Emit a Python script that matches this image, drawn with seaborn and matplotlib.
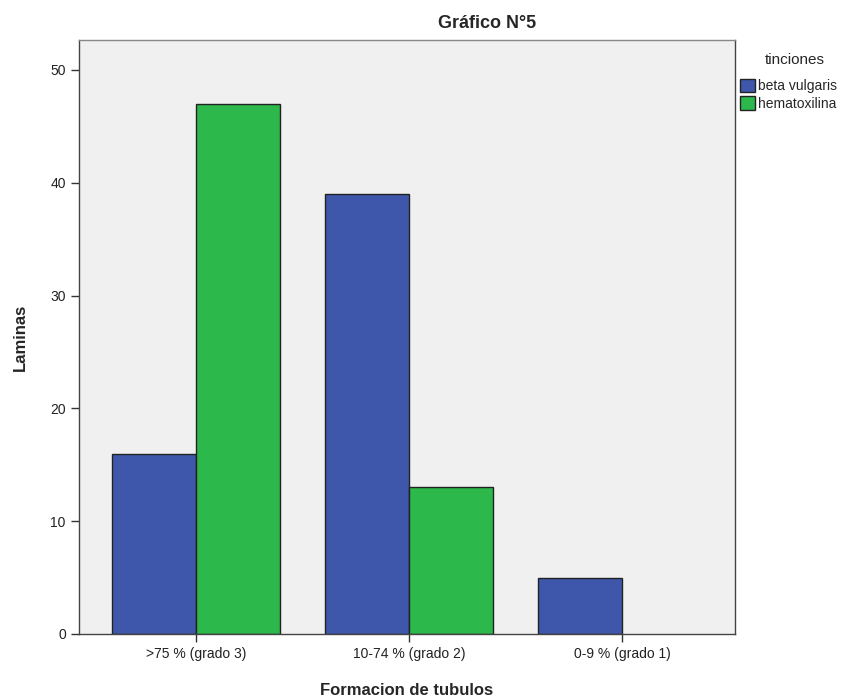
import pandas as pd
import matplotlib
matplotlib.use("Agg")
import matplotlib.pyplot as plt
import seaborn as sns

sns.set_style("white")
plt.rcParams['font.family'] = ['Liberation Sans', 'DejaVu Sans']

categorias = [">75 % (grado 3)", "10-74 % (grado 2)", "0-9 % (grado 1)"]
beta_vulgaris = [16, 39, 5]
hematoxilina = [47, 13, 0]
tinciones = ["beta vulgaris", "hematoxilina"]
colores = ["#3E57AB", "#2DB84B"]

df = pd.DataFrame({
    "Formacion de tubulos": categorias * 2,
    "Laminas": beta_vulgaris + hematoxilina,
    "tinciones": [tinciones[0]] * 3 + [tinciones[1]] * 3,
})

fig = plt.figure(figsize=(8.64, 6.98), dpi=100)
ax = fig.add_axes([0.0914, 0.0917, 0.7593, 0.851])
ax.set_facecolor("#F0F0F0")

sns.barplot(data=df, x="Formacion de tubulos", y="Laminas", hue="tinciones",
            order=categorias, hue_order=tinciones, palette=colores,
            width=0.79, edgecolor="#222222", linewidth=1.0,
            saturation=1, ax=ax, legend=True)

# bars with no height are not drawn
for cont in ax.containers:
    for p in cont:
        if p.get_height() == 0:
            p.set_visible(False)

ax.set_xlim(-0.55, 2.53)
ax.set_ylim(0, 52.66)
ax.set_yticks([0, 10, 20, 30, 40, 50])
ax.tick_params(axis="both", direction="out", length=6, width=1, colors="#333333",
               labelsize=10, labelcolor="#222222", bottom=True, left=True)
for s in ax.spines.values():
    s.set_color("#444444")
    s.set_linewidth(1)
ax.spines["top"].set_color("#888888")

ax.set_xlabel("Formacion de tubulos", fontsize=12, fontweight="bold", labelpad=16)
ax.set_ylabel("Laminas", fontsize=12, fontweight="bold", labelpad=16)

fig.text(0.564, 0.966, "Gráfico N°5", ha="center", va="center",
         fontsize=13, fontweight="bold")

ax.get_legend().remove()
handles = [plt.Rectangle((0, 0), 1, 1, facecolor=c, edgecolor="#222222", linewidth=1)
           for c in colores]
fig.text(795 / 864, 1 - 60 / 698, "tinciones", ha="center", va="center", fontsize=11)
leg = fig.legend(handles, tinciones, loc="upper left",
                 bbox_to_anchor=(740 / 864, 1 - 79 / 698), frameon=False, fontsize=10,
                 handlelength=1.1, handleheight=1.1,
                 handletextpad=0.2, labelspacing=0.2, borderaxespad=0, borderpad=0)

fig.savefig("out.png", dpi=100)
